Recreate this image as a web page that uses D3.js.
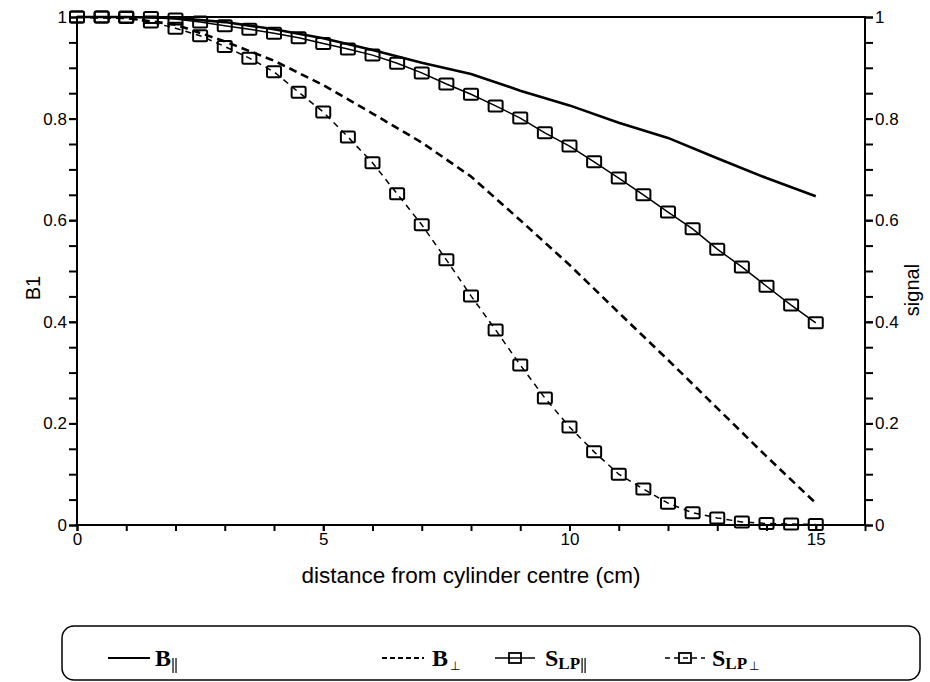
<!DOCTYPE html>
<html>
<head>
<meta charset="utf-8">
<script src="https://cdn.jsdelivr.net/npm/d3@7"></script>
<style>
  html, body { margin: 0; padding: 0; background: #fff; }
  svg { display: block; }
</style>
</head>
<body>
<svg id="chart" width="930" height="682"></svg>
<script>
// ---------- data ----------
const bX = [0, 1, 2, 3, 4, 5, 6, 7, 8, 9, 10, 11, 12, 13, 14, 15];
const bPar = [1.0, 1.0, 0.998, 0.99, 0.976, 0.958, 0.935, 0.91, 0.888, 0.855, 0.826, 0.792, 0.762, 0.722, 0.683, 0.647];
const bPerp = [1.0, 0.998, 0.985, 0.952, 0.914, 0.866, 0.81, 0.753, 0.686, 0.60, 0.512, 0.418, 0.325, 0.23, 0.135, 0.043];

const sX = [0, 0.5, 1, 1.5, 2, 2.5, 3, 3.5, 4, 4.5, 5, 5.5, 6, 6.5, 7, 7.5, 8, 8.5, 9, 9.5, 10, 10.5, 11, 11.5, 12, 12.5, 13, 13.5, 14, 14.5, 15];
const sPar = [1.0, 1.0, 1.0, 0.999, 0.996, 0.99, 0.983, 0.976, 0.968, 0.959, 0.948, 0.937, 0.925, 0.909, 0.89, 0.868, 0.848, 0.825, 0.801, 0.772, 0.746, 0.715, 0.683, 0.65, 0.616, 0.583, 0.543, 0.508, 0.47, 0.433, 0.398];
const sPerp = [1.0, 1.0, 0.999, 0.99, 0.978, 0.963, 0.942, 0.919, 0.892, 0.852, 0.813, 0.764, 0.713, 0.652, 0.591, 0.522, 0.451, 0.384, 0.315, 0.25, 0.193, 0.144, 0.1, 0.071, 0.043, 0.024, 0.014, 0.006, 0.003, 0.002, 0.001];

const xMajorTicks = [0, 5, 10, 15];
const yMajorTicks = [0, 0.2, 0.4, 0.6, 0.8, 1];
const yTickLabels = ["0", "0.2", "0.4", "0.6", "0.8", "1"];

// ---------- layout ----------
const svg = d3.select("#chart");
const L = 77, R = 865, T = 17, B = 525;
const x = d3.scaleLinear().domain([0, 16]).range([L, R]);
const yL = d3.scaleLinear().domain([0, 1]).range([B, T]);
const yR = d3.scaleLinear().domain([0, 1]).range([B, T]);

const axisFont = "Liberation Sans, Arial, sans-serif";
const tickFS = 17;

const xMinor = d3.range(0, 17, 1);
const yMinor = d3.range(0, 1.0001, 0.05);

// x axis (bottom)
const gx = svg.append("g").attr("transform", `translate(0,${B})`)
  .call(d3.axisBottom(x).tickValues(xMinor).tickSize(6).tickFormat(""));
gx.select(".domain").remove();
const gxl = svg.append("g").attr("transform", `translate(0,${B})`)
  .call(d3.axisBottom(x).tickValues(xMajorTicks).tickSize(6).tickPadding(2).tickFormat(d3.format("d")));
gxl.select(".domain").remove();
gxl.selectAll("text").attr("font-size", tickFS).attr("font-family", axisFont).attr("fill", "#000");

// left y axis
const gyl = svg.append("g").attr("transform", `translate(${L},0)`)
  .call(d3.axisLeft(yL).tickValues(yMinor).tickSize(8).tickFormat(""));
gyl.select(".domain").remove();
const gyl2 = svg.append("g").attr("transform", `translate(${L},0)`)
  .call(d3.axisLeft(yL).tickValues(yMajorTicks).tickSize(8).tickPadding(2)
    .tickFormat((d, i) => yTickLabels[i]));
gyl2.select(".domain").remove();
gyl2.selectAll("text").attr("font-size", tickFS).attr("font-family", axisFont).attr("fill", "#000");

// right y axis
const gyr = svg.append("g").attr("transform", `translate(${R},0)`)
  .call(d3.axisRight(yR).tickValues(yMinor).tickSize(8).tickFormat(""));
gyr.select(".domain").remove();
const gyr2 = svg.append("g").attr("transform", `translate(${R},0)`)
  .call(d3.axisRight(yR).tickValues(yMajorTicks).tickSize(8).tickPadding(2)
    .tickFormat((d, i) => yTickLabels[i]));
gyr2.select(".domain").remove();
gyr2.selectAll("text").attr("font-size", tickFS).attr("font-family", axisFont).attr("fill", "#000");

svg.selectAll(".tick line").attr("stroke", "#000").attr("stroke-width", 2);

// frame
svg.append("rect").attr("x", L).attr("y", T).attr("width", R - L).attr("height", B - T)
  .attr("fill", "none").attr("stroke", "#000").attr("stroke-width", 2);

// ---------- series ----------
const lineB = d3.line().x(d => x(d[0])).y(d => yL(d[1]));
const lineS = d3.line().x(d => x(d[0])).y(d => yR(d[1]));

svg.append("path").datum(bX.map((v, i) => [v, bPar[i]]))
  .attr("d", lineB).attr("fill", "none").attr("stroke", "#000").attr("stroke-width", 2.6);
svg.append("path").datum(bX.map((v, i) => [v, bPerp[i]]))
  .attr("d", lineB).attr("fill", "none").attr("stroke", "#000").attr("stroke-width", 2.6)
  .attr("stroke-dasharray", "8,5");

svg.append("path").datum(sX.map((v, i) => [v, sPar[i]]))
  .attr("d", lineS).attr("fill", "none").attr("stroke", "#000").attr("stroke-width", 1.5);
svg.append("path").datum(sX.map((v, i) => [v, sPerp[i]]))
  .attr("d", lineS).attr("fill", "none").attr("stroke", "#000").attr("stroke-width", 1.5)
  .attr("stroke-dasharray", "6,5");

const mw = 14, mh = 11;
function markers(vals) {
  svg.append("g").selectAll("rect").data(sX.map((v, i) => [v, vals[i]])).join("rect")
    .attr("x", d => x(d[0]) - mw / 2).attr("y", d => yR(d[1]) - mh / 2)
    .attr("width", mw).attr("height", mh).attr("rx", 1.5)
    .attr("fill", "none").attr("stroke", "#000").attr("stroke-width", 2);
}
markers(sPar);
markers(sPerp);

// ---------- axis titles ----------
svg.append("text").attr("x", 471).attr("y", 583).attr("text-anchor", "middle")
  .attr("font-family", axisFont).attr("font-size", 22.5).text("distance from cylinder centre (cm)");
svg.append("text").attr("transform", "translate(40,288) rotate(-90)").attr("text-anchor", "middle")
  .attr("font-family", axisFont).attr("font-size", 20).text("B1");
svg.append("text").attr("transform", "translate(919,290) rotate(-90)").attr("text-anchor", "middle")
  .attr("font-family", axisFont).attr("font-size", 20).text("signal");

// ---------- legend ----------
svg.append("rect").attr("x", 62).attr("y", 626).attr("width", 858).attr("height", 54)
  .attr("rx", 12).attr("fill", "none").attr("stroke", "#000").attr("stroke-width", 1.5);

const ly = 658;
const serif = "Liberation Serif, Times New Roman, serif";
const legendItems = [
  { x1: 108, x2: 150, dash: null, w: 2.2, marker: false, main: "B", sub: "", bar: true, perp: false, tx: 155 },
  { x1: 382, x2: 424, dash: "5,3", w: 2.2, marker: false, main: "B", sub: "", bar: false, perp: true, tx: 432 },
  { x1: 495, x2: 535, dash: null, w: 1.3, marker: true, main: "S", sub: "LP", bar: true, perp: false, tx: 545 },
  { x1: 665, x2: 705, dash: "5,4", w: 1.3, marker: true, main: "S", sub: "LP", bar: false, perp: true, tx: 712 }
];
legendItems.forEach(it => {
  svg.append("line").attr("x1", it.x1).attr("x2", it.x2).attr("y1", ly).attr("y2", ly)
    .attr("stroke", "#000").attr("stroke-width", it.w)
    .attr("stroke-dasharray", it.dash);
  if (it.marker) {
    const cx = (it.x1 + it.x2) / 2;
    svg.append("rect").attr("x", cx - 6).attr("y", ly - 5).attr("width", 12).attr("height", 10)
      .attr("fill", "none").attr("stroke", "#000").attr("stroke-width", 1.8);
  }
  const t = svg.append("text").attr("x", it.tx).attr("y", ly + 8)
    .attr("font-family", serif).attr("font-weight", "bold").attr("font-size", 24);
  t.append("tspan").text(it.main);
  if (it.sub) t.append("tspan").attr("font-size", 17).attr("dy", 3).text(it.sub);
  const tb = t.node().getComputedTextLength();
  const sx = it.tx + tb + 2;
  if (it.bar) {
    [0, 3].forEach(o => svg.append("line").attr("x1", sx + o).attr("x2", sx + o)
      .attr("y1", ly + 0).attr("y2", ly + 15).attr("stroke", "#000").attr("stroke-width", 1.2));
  }
  if (it.perp) {
    svg.append("text").attr("x", sx).attr("y", ly + 12)
      .attr("font-family", "DejaVu Sans, sans-serif").attr("font-size", 12).text("\u22A5");
  }
});
</script>
</body>
</html>
